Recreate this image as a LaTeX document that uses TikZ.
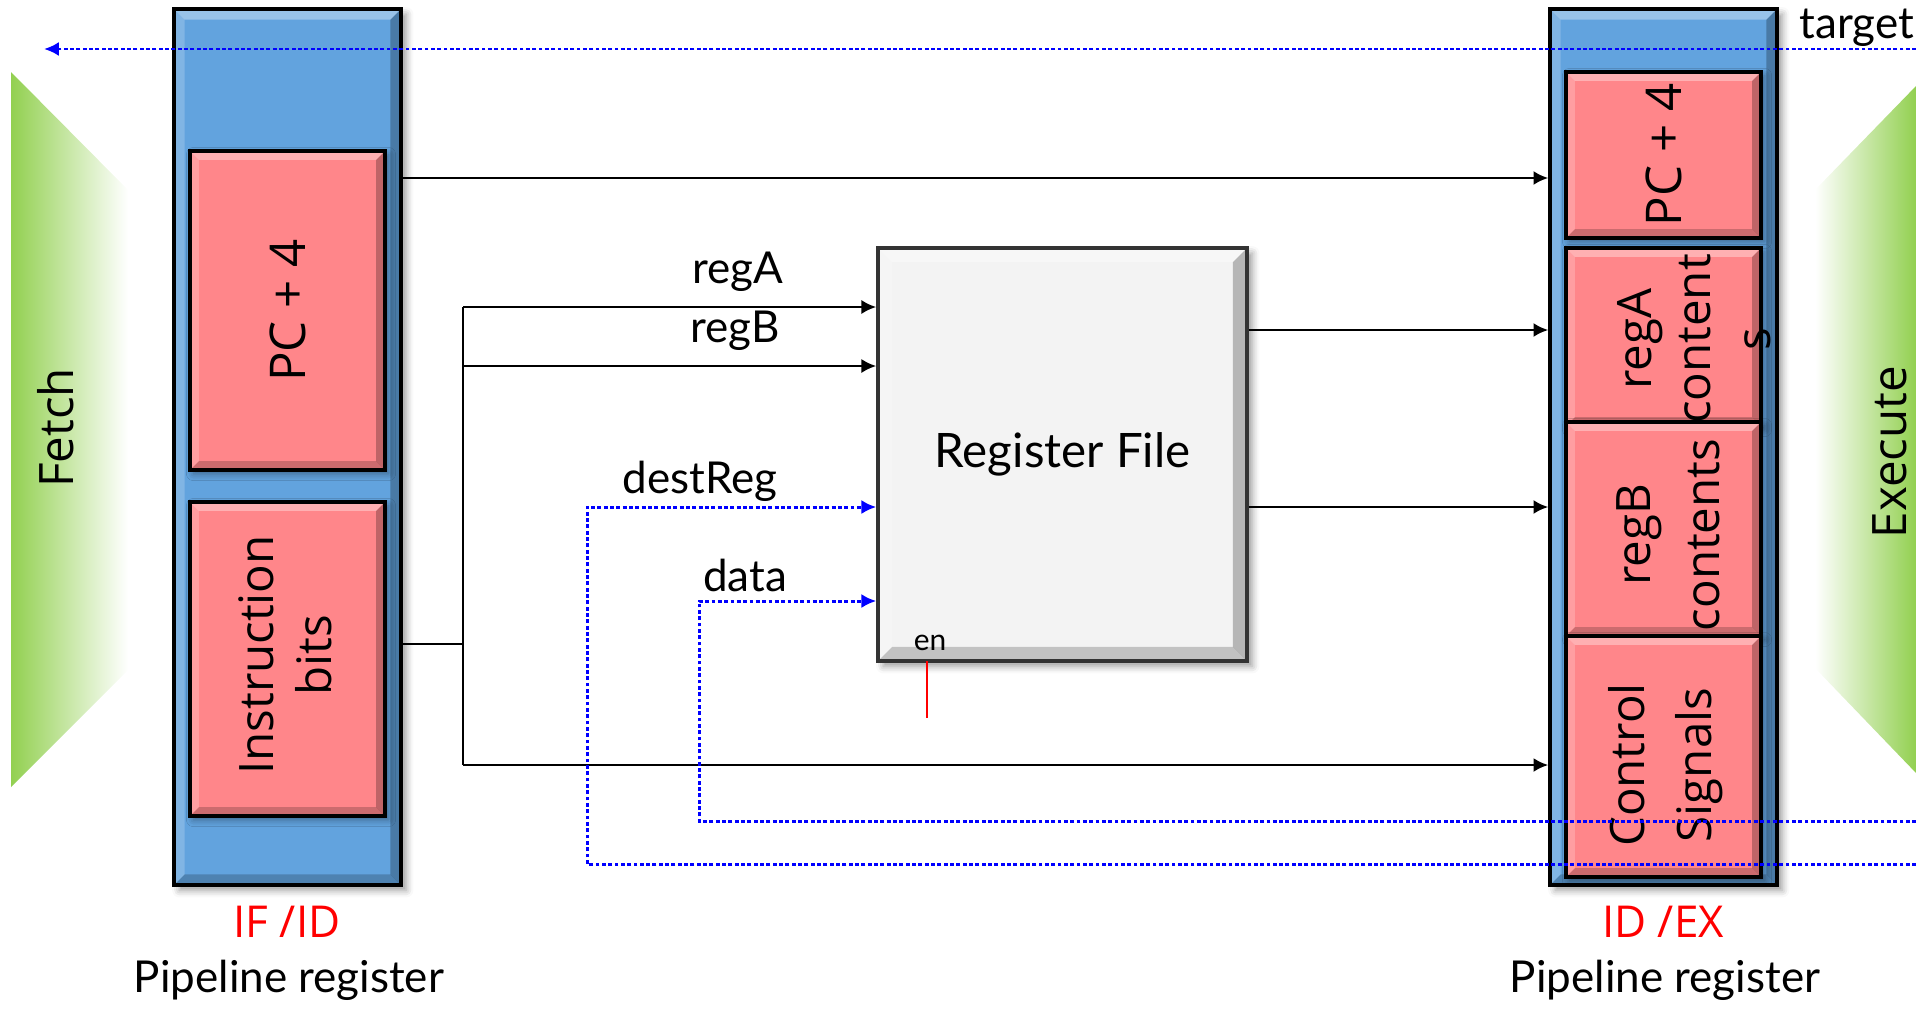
\documentclass[tikz,border=0pt]{standalone}
\usepackage{fontspec}
\setmainfont{Lato}
\newfontfamily\boxfont{Open Sans}
\usepackage{tikz}
\usetikzlibrary{arrows, arrows.meta, positioning, fit, calc, shadows.blur}
\definecolor{regblue}{RGB}{98, 163, 222}
\definecolor{regpink}{RGB}{255, 134, 138}
\definecolor{rfgrey}{RGB}{243, 243, 243}
\definecolor{stagegreen}{RGB}{146, 208, 80}
\definecolor{fwdblue}{RGB}{0, 0, 255}
\tikzset{
    bevel/.style={path picture={
        \coordinate (bnw) at (path picture bounding box.north west);
        \coordinate (bne) at (path picture bounding box.north east);
        \coordinate (bsw) at (path picture bounding box.south west);
        \coordinate (bse) at (path picture bounding box.south east);
        \fill[white, opacity=.35] (bnw) -- (bne) -- ([shift={(-#1,-#1)}]bne) -- ([shift={(#1,-#1)}]bnw) -- cycle;
        \fill[white, opacity=.2] (bnw) -- (bsw) -- ([shift={(#1,#1)}]bsw) -- ([shift={(#1,-#1)}]bnw) -- cycle;
        \fill[black, opacity=.25] (bne) -- (bse) -- ([shift={(-#1,#1)}]bse) -- ([shift={(-#1,-#1)}]bne) -- cycle;
        \fill[black, opacity=.2] (bsw) -- (bse) -- ([shift={(-#1,#1)}]bse) -- ([shift={(#1,#1)}]bsw) -- cycle;
    }},
    pipereg/.style={draw=black, line width=1pt, fill=regblue, inner sep=0pt, bevel=3pt, blur shadow={shadow xshift=1.5pt, shadow yshift=-1.5pt}},
    field/.style={draw=black, line width=1pt, fill=regpink, inner sep=0pt, bevel=2.5pt, blur shadow={shadow xshift=1pt, shadow yshift=-1pt}},
    regfile/.style={draw=black!80, line width=1pt, fill=rfgrey, inner sep=0pt, bevel=4pt, blur shadow={shadow xshift=1.5pt, shadow yshift=-1.5pt}},
    fieldtext/.style={rotate=90, align=center, font=\boxfont\fontsize{14}{17}\selectfont},
    stage/.style={rotate=90, font=\boxfont\fontsize{13.5}{16}\selectfont},
    sig/.style={font=\fontsize{12.5}{15}\selectfont, inner sep=1pt},
    tag/.style={text=red, font=\boxfont\fontsize{12.5}{15}\selectfont},
    regname/.style={font=\fontsize{12.5}{15}\selectfont},
    wire/.style={line width=0.7pt, -{Latex[length=4.2pt, width=4pt]}},
    fwd/.style={fwdblue, line width=0.85pt, dash pattern=on 1.1pt off 0.7pt, -{Latex[length=4.2pt, width=4pt]}}
}
\begin{document}
\begin{tikzpicture}[x=0.01cm, y=-0.01cm]
    \useasboundingbox (0,0) rectangle (1916,1012);

    % stage wedges
    \shade[left color=stagegreen, right color=white] (11,72) -- (128,190) -- (128,670) -- (11,787) -- cycle;
    \shade[left color=white, right color=stagegreen] (1916,86) -- (1815,190) -- (1815,668) -- (1916,773) -- cycle;
    \node (fetch) [stage] at (56,428) {Fetch};
    \node (execute) [stage] at (1890,452) {Execute};

    % IF/ID register
    \node (ifid) [pipereg, fit={(174,9) (401,885)}] {};
    \node (pcA) [field, fit={(190,151) (385,470)}] {};
    \node (instr) [field, fit={(190,502) (385,816)}] {};
    \node (pcAtext) [fieldtext] at (pcA.center) {PC + 4};
    \node (instrtext) [fieldtext, font=\boxfont\fontsize{13.5}{16.5}\selectfont] at (285,655) {Instruction\\bits};
    \node (ifidtag) [tag] at (287,922) {IF /ID};
    \node (ifidname) [regname] at (289,980) {Pipeline register};

    % ID/EX register
    \node (idex) [pipereg, fit={(1550,9) (1777,885)}] {};
    \node (pcB) [field, fit={(1566,72) (1761,238)}] {};
    \node (regAc) [field, fit={(1566,248) (1761,426)}] {};
    \node (regBc) [field, fit={(1566,422) (1761,636)}] {};
    \node (ctrl) [field, fit={(1566,636) (1761,877)}] {};
    \node (pcBtext) [fieldtext] at (pcB.center) {PC + 4};
    \node (regActext) [fieldtext, font=\boxfont\fontsize{13.5}{17}\selectfont] at (1694,339) {regA\\content\\s};
    \node (regBctext) [fieldtext, font=\boxfont\fontsize{13.5}{19.5}\selectfont] at (1668,535) {regB\\contents};
    \node (ctrltext) [fieldtext, font=\boxfont\fontsize{13.5}{19}\selectfont] at (1666,765) {Control\\Signals};
    \node (idextag) [tag] at (1663,922) {ID /EX};
    \node (idexname) [regname] at (1665,980) {Pipeline register};

    % register file
    \node (rf) [regfile, fit={(878,248) (1247,661)}] {};
    \node (rftext) [font=\fontsize{13.5}{16}\selectfont] at (rf.center) {Register File};
    \node (en) [font=\fontsize{8.5}{10}\selectfont, inner sep=0pt] at (930,643) {en};
    \draw[red, line width=0.6pt] (927,661) -- (927,718);

    % wires
    \coordinate (split) at (463,644);
    \draw[wire] (ifid.east |- 0,178) -- (idex.west |- 0,178);
    \draw[line width=0.7pt] (ifid.east |- split) -- (split);
    \draw[line width=0.7pt] (463,307) -- (463,765);
    \draw[wire] (463,307) -- (rf.west |- 0,307);
    \draw[wire] (463,366) -- (rf.west |- 0,366);
    \draw[wire] (463,765) -- (idex.west |- 0,765);
    \draw[wire] (rf.east |- 0,330) -- (idex.west |- 0,330);
    \draw[wire] (rf.east |- 0,507) -- (idex.west |- 0,507);
    \node (regA) [sig] at (738,272) {regA};
    \node (regB) [sig] at (735,331) {regB};

    % forwarding paths
    \draw[fwd] (1916,864) -- (587,864) -- (587,507) -- (rf.west |- 0,507);
    \draw[fwd] (1916,821) -- (699,821) -- (699,601) -- (rf.west |- 0,601);
    \draw[fwd] (1916,49) -- (44,49);
    \node (destreg) [sig] at (700,481) {destReg};
    \node (data) [sig] at (745,575) {data};
    \node (target) [sig] at (1857,28) {target};
\end{tikzpicture}
\end{document}
